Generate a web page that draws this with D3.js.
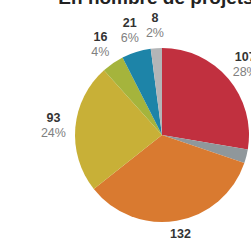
<!DOCTYPE html>
<html>
<head>
<meta charset="utf-8">
<script src="https://cdn.jsdelivr.net/npm/d3@7"></script>
<style>
  body { margin: 0; background: #fff; overflow: hidden; }
  svg { display: block; font-family: "Liberation Sans", Arial, sans-serif; }
</style>
</head>
<body>
<div id="chart"></div>
<script>
// slices, clockwise from 12 o'clock
var categories = ["A", "B", "C", "D", "E", "F", "G"];
var counts = [107, 10, 132, 93, 16, 21, 8];
var pctLabels = ["28%", "3%", "34%", "24%", "4%", "6%", "2%"];
var colors = ["#c1303f", "#8f979b", "#d97a30", "#c8b037", "#a5b43c", "#1d84a8", "#b3b5b7"];

var width = 251, height = 243;
var cx = 162, cy = 135, radius = 87;

var svg = d3.select("#chart").append("svg")
    .attr("width", width)
    .attr("height", height);

// title (cut at the top in the original)
svg.append("text")
    .attr("x", 156)
    .attr("y", 4)
    .attr("text-anchor", "middle")
    .attr("font-size", "19px")
    .attr("font-weight", "bold")
    .attr("fill", "#222")
    .text("En nombre de projets");

var g = svg.append("g")
    .attr("transform", "translate(" + cx + "," + cy + ")");

var data = categories.map(function (c, i) {
    return { cat: c, value: counts[i], pct: pctLabels[i], color: colors[i] };
});

var pie = d3.pie()
    .sort(null)
    .value(function (d) { return d.value; });

var arc = d3.arc().innerRadius(0).outerRadius(radius);
var labelArc = d3.arc().innerRadius(109).outerRadius(109);

var arcs = pie(data);

g.selectAll("path")
    .data(arcs)
    .enter()
    .append("path")
    .attr("d", arc)
    .attr("fill", function (d) { return d.data.color; });

var labels = g.selectAll(".lbl")
    .data(arcs)
    .enter()
    .append("g")
    .attr("class", "lbl")
    .attr("transform", function (d) {
        return "translate(" + labelArc.centroid(d) + ")";
    });

labels.append("text")
    .attr("text-anchor", "middle")
    .attr("y", -4)
    .attr("font-size", "12.5px")
    .attr("font-weight", "bold")
    .attr("fill", "#333")
    .text(function (d) { return d.data.value; });

labels.append("text")
    .attr("text-anchor", "middle")
    .attr("y", 11)
    .attr("font-size", "12.5px")
    .attr("fill", "#808080")
    .text(function (d) { return d.data.pct; });
</script>
</body>
</html>
